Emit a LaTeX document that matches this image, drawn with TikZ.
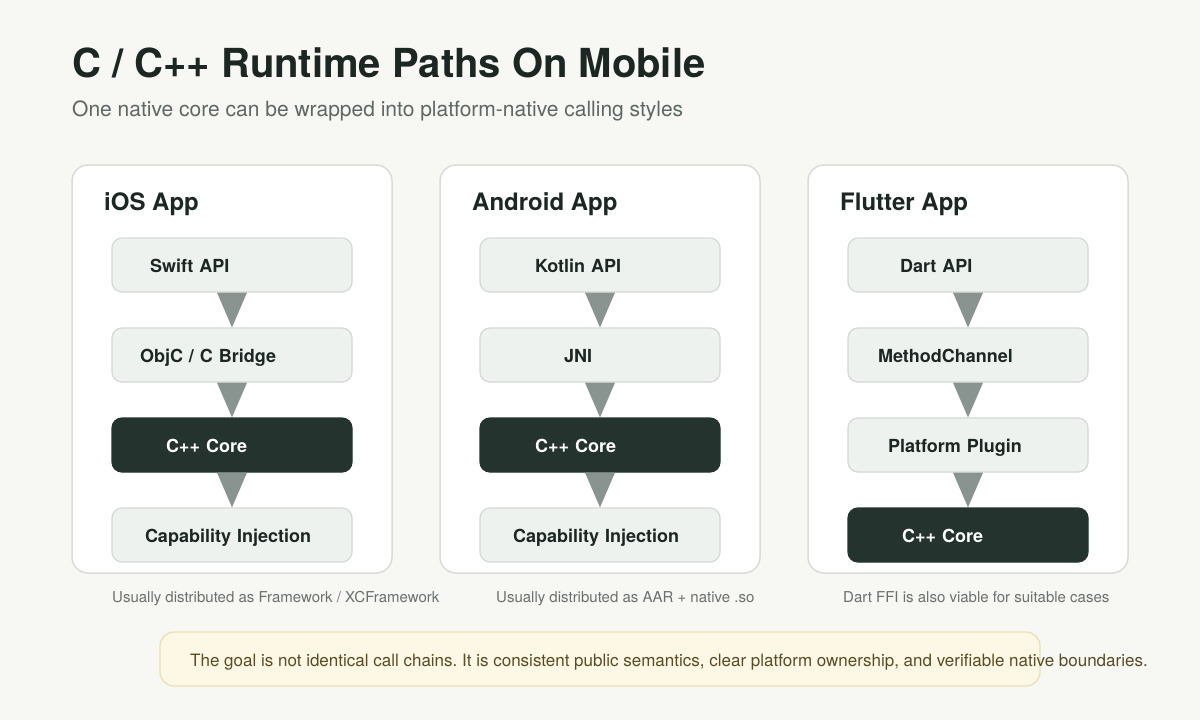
\documentclass[tikz,border=0pt]{standalone}
\usepackage{fontspec}
\setmainfont{TeX Gyre Heros}
\frenchspacing
\usetikzlibrary{calc, positioning}

\definecolor{pagebg}{HTML}{F7F7F4}
\definecolor{ink}{HTML}{1C2622}
\definecolor{subink}{HTML}{5D6862}
\definecolor{panelline}{HTML}{DADCD8}
\definecolor{stepfill}{HTML}{EEF2EF}
\definecolor{stepline}{HTML}{D3D9D5}
\definecolor{corefill}{HTML}{24332E}
\definecolor{tricol}{HTML}{899390}
\definecolor{capink}{HTML}{6A706D}
\definecolor{notefill}{HTML}{FDF8E5}
\definecolor{noteline}{HTML}{EADFB4}
\definecolor{noteink}{HTML}{5A4B26}

\tikzset{
    panel/.style={draw=panelline,line width=1.5pt,fill=white,rounded corners=16pt,
        minimum width=320pt,minimum height=408pt},
    apptitle/.style={anchor=base west,inner sep=0pt,text=ink,font=\fontsize{24}{28}\selectfont\bfseries},
    stepbox/.style={draw=stepline,line width=1.2pt,fill=stepfill,rounded corners=10pt,
        minimum height=54pt,inner xsep=#1,text width={240pt-2*#1},align=left,
        text height=15pt,text depth=0pt,
        text=ink,font=\fontsize{18}{22}\selectfont\bfseries},
    corebox/.style={stepbox=#1,draw=corefill,fill=corefill,text=white},
    tri/.style={fill=tricol},
    caption/.style={anchor=base west,inner sep=0pt,text=capink,font=\fontsize{15}{18}\selectfont},
}

\begin{document}
\begin{tikzpicture}[x=1pt,y=-1pt]
    \fill[pagebg] (0,0) rectangle (1200,720);
    \useasboundingbox (0,0) rectangle (1200,720);

    \node[anchor=base west,inner sep=0pt,text=ink,font=\fontsize{40}{46}\selectfont\bfseries]
        (title) at (72,77) {C / C++ Runtime Paths On Mobile};
    \node[anchor=base west,inner sep=0pt,text=subink,font=\fontsize{21}{25}\selectfont]
        (subtitle) at (72,116) {One native core can be wrapped into platform-native calling styles};

    \node[panel] (ios) at (232,369) {};
    \node[panel] (android) at (600,369) {};
    \node[panel] (flutter) at (968,369) {};

    \node[apptitle] (iostitle) at (104,210) {iOS App};
    \node[apptitle] (androidtitle) at (472,210) {Android App};
    \node[apptitle] (fluttertitle) at (840,210) {Flutter App};

    \node[stepbox=38pt] (swift) at (232,265) {Swift API};
    \node[stepbox=28pt] (objc) at (232,355) {ObjC / C Bridge};
    \node[corebox=54pt] (ioscore) at (232,445) {C++ Core};
    \node[stepbox=33pt] (ioscap) at (232,535) {Capability Injection};

    \node[stepbox=55pt] (kotlin) at (600,265) {Kotlin API};
    \node[stepbox=84pt] (jni) at (600,355) {JNI};
    \node[corebox=55pt] (androidcore) at (600,445) {C++ Core};
    \node[stepbox=33pt] (androidcap) at (600,535) {Capability Injection};

    \node[stepbox=52pt] (dart) at (968,265) {Dart API};
    \node[stepbox=30pt] (channel) at (968,355) {MethodChannel};
    \node[stepbox=40pt] (plugin) at (968,445) {Platform Plugin};
    \node[corebox=54pt] (fluttercore) at (968,535) {C++ Core};

    \foreach \a/\b in {swift/objc, objc/ioscore, ioscore/ioscap,
                       kotlin/jni, jni/androidcore, androidcore/androidcap,
                       dart/channel, channel/plugin, plugin/fluttercore}
        \fill[tri] ($(\a.south)+(-15,0)$) -- ($(\a.south)+(15,0)$) -- (\b.north) -- cycle;

    \node[caption] (ioscaption) at (112,602) {Usually distributed as Framework / XCFramework};
    \node[caption] (androidcaption) at (496,602) {Usually distributed as AAR + native .so};
    \node[caption] (fluttercaption) at (843,602) {Dart FFI is also viable for suitable cases};

    \node[draw=noteline,line width=1.3pt,fill=notefill,rounded corners=14pt,
        minimum width=880pt,minimum height=54pt] (note) at (600,659) {};
    \node[anchor=base west,inner sep=0pt,text=noteink,font=\fontsize{17}{20}\selectfont]
        (notetext) at (190,666)
        {The goal is not identical call chains. It is consistent public semantics, clear platform ownership, and verifiable native boundaries.};
\end{tikzpicture}
\end{document}
